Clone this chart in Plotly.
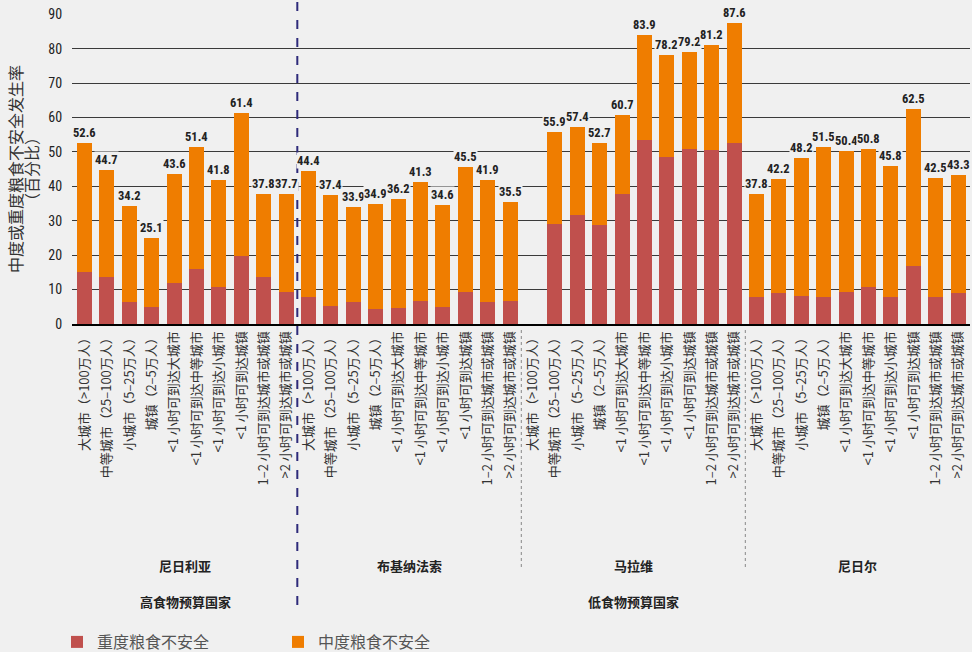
import plotly.graph_objects as go

categories = [
    "大城市（>100万人）", "中等城市（25–100万人）", "小城市（5–25万人）", "城镇（2–5万人）",
    "<1 小时可到达大城市", "<1 小时可到达中等城市", "<1 小时可到达小城市", "<1 小时可到达城镇",
    "1–2 小时可到达城市或城镇", ">2 小时可到达城市或城镇",
]
countries = ["尼日利亚", "布基纳法索", "马拉维", "尼日尔"]
groups = ["高食物预算国家", "低食物预算国家"]

nigeria_severe = [15.2, 13.7, 6.5, 5.0, 12.0, 16.0, 10.8, 19.8, 13.7, 9.4]
nigeria_moderate = [37.4, 31.0, 27.7, 20.1, 31.6, 35.4, 31.0, 41.6, 24.1, 28.3]
nigeria_total = [52.6, 44.7, 34.2, 25.1, 43.6, 51.4, 41.8, 61.4, 37.8, 37.7]

burkina_severe = [7.8, 5.2, 6.4, 4.3, 4.6, 6.7, 4.9, 9.3, 6.4, 6.7]
burkina_moderate = [36.6, 32.2, 27.5, 30.6, 31.6, 34.6, 29.7, 36.2, 35.5, 28.8]
burkina_total = [44.4, 37.4, 33.9, 34.9, 36.2, 41.3, 34.6, 45.5, 41.9, 35.5]

malawi_severe = [None, 29.1, 31.7, 28.8, 37.8, 53.4, 48.5, 50.8, 50.5, 52.6]
malawi_moderate = [None, 26.8, 25.7, 23.9, 22.9, 30.5, 29.7, 28.4, 30.7, 35.0]
malawi_total = [None, 55.9, 57.4, 52.7, 60.7, 83.9, 78.2, 79.2, 81.2, 87.6]

niger_severe = [7.8, 9.0, 8.1, 7.8, 9.3, 10.7, 7.8, 16.8, 7.8, 9.0]
niger_moderate = [30.0, 33.2, 40.1, 43.7, 41.1, 40.1, 38.0, 45.7, 34.7, 34.3]
niger_total = [37.8, 42.2, 48.2, 51.5, 50.4, 50.8, 45.8, 62.5, 42.5, 43.3]

severe = nigeria_severe + burkina_severe + malawi_severe + niger_severe
moderate = nigeria_moderate + burkina_moderate + malawi_moderate + niger_moderate
total = nigeria_total + burkina_total + malawi_total + niger_total

n_cat = len(categories)
xs = list(range(n_cat * len(countries)))
ticktext = categories * len(countries)

RED = "#c0504d"
ORANGE = "#ef7d00"
BG = "#f0f0f0"
NUMFONT = "Roboto Condensed, Liberation Sans Narrow, Roboto, Arial, sans-serif"
CJK = "Noto Sans CJK SC, sans-serif"

W, H = 972, 652
PLOT_L, PLOT_R, PLOT_T, PLOT_B = 72, 970, 14, 324
plot_w = PLOT_R - PLOT_L
plot_h = PLOT_B - PLOT_T
Y_MAX = 90.1


def py(pix):
    return (PLOT_B - pix) / plot_h


def px(pix):
    return (pix - PLOT_L) / plot_w


fig = go.Figure()
fig.add_trace(go.Bar(x=xs, y=severe, name="重度粮食不安全", marker=dict(color=RED, line=dict(width=0)),
                     width=0.67))
fig.add_trace(go.Bar(x=xs, y=moderate, name="中度粮食不安全", marker=dict(color=ORANGE, line=dict(width=0)),
                     width=0.67))

annotations = []
for x, t in zip(xs, total):
    if t is None:
        continue
    annotations.append(dict(x=x, y=t, xref="x", yref="y", text=f"{t:.1f}", showarrow=False,
                            yanchor="bottom", yshift=2, bgcolor=BG, borderpad=0,
                            font=dict(family=NUMFONT, size=12.5, color="#222", weight="bold")))

# country labels
for i, c in enumerate(countries):
    annotations.append(dict(x=i * n_cat + (n_cat - 1) / 2, y=py(565), xref="x", yref="paper", text=c,
                            showarrow=False, yanchor="middle",
                            font=dict(family=CJK, size=13, color="#222", weight="bold")))
# group labels
annotations.append(dict(x=(n_cat - 1) / 2, y=py(601), xref="x", yref="paper", text=groups[0],
                        showarrow=False, yanchor="middle",
                        font=dict(family=CJK, size=13, color="#222", weight="bold")))
annotations.append(dict(x=n_cat + (3 * n_cat - 1) / 2, y=py(601), xref="x", yref="paper",
                        text=groups[1], showarrow=False, yanchor="middle",
                        font=dict(family=CJK, size=13, color="#222", weight="bold")))
# y title
annotations.append(dict(x=px(15), y=0.5, xref="paper", yref="paper", xanchor="center", yanchor="middle",
                        text="中度或重度粮食不安全发生率", textangle=-90, showarrow=False,
                        font=dict(family=CJK, size=16, color="#333")))
annotations.append(dict(x=px(31), y=0.5, xref="paper", yref="paper", xanchor="center", yanchor="middle",
                        text="（百分比）", textangle=-90, showarrow=False,
                        font=dict(family=CJK, size=16, color="#333")))

shapes = [
    dict(type="line", xref="x", yref="paper", x0=n_cat - 0.5, x1=n_cat - 0.5, y0=py(605), y1=py(0),
         line=dict(color="#2e2a7a", width=2, dash="dash")),
]
for k in (2, 3):
    shapes.append(dict(type="line", xref="x", yref="paper", x0=k * n_cat - 0.5, x1=k * n_cat - 0.5,
                       y0=py(330), y1=py(570), line=dict(color="#888", width=1, dash="dot")))

fig.update_layout(
    width=W, height=H,
    margin=dict(l=PLOT_L, r=W - PLOT_R, t=PLOT_T, b=H - PLOT_B, autoexpand=False),
    paper_bgcolor=BG, plot_bgcolor=BG,
    barmode="stack",
    showlegend=True,
    legend=dict(orientation="h", x=px(57), xanchor="left", y=py(642), yanchor="middle",
                entrywidth=176, entrywidthmode="pixels", bgcolor="rgba(0,0,0,0)",
                font=dict(family=CJK, size=16, color="#555"), traceorder="normal"),
    annotations=annotations,
    shapes=shapes,
    xaxis=dict(range=[-0.558, 39.53], tickmode="array", tickvals=xs, ticktext=ticktext,
               tickangle=-90, showgrid=False, showline=True, linecolor="#000", linewidth=2,
               ticks="", zeroline=False,
               tickfont=dict(family=CJK, size=13, color="#333")),
    yaxis=dict(range=[0, Y_MAX], tickvals=[0, 10, 20, 30, 40, 50, 60, 70, 80, 90],
               showgrid=True, gridcolor="#3a3a3a", gridwidth=1, zeroline=False,
               ticks="outside", ticklen=6, tickcolor=BG,
               tickfont=dict(family=NUMFONT, size=14, color="#222")),
    font=dict(family=CJK),
)

fig.write_html("out.html", config={"displayModeBar": False},
               post_script="document.body.style.margin='0px';")
